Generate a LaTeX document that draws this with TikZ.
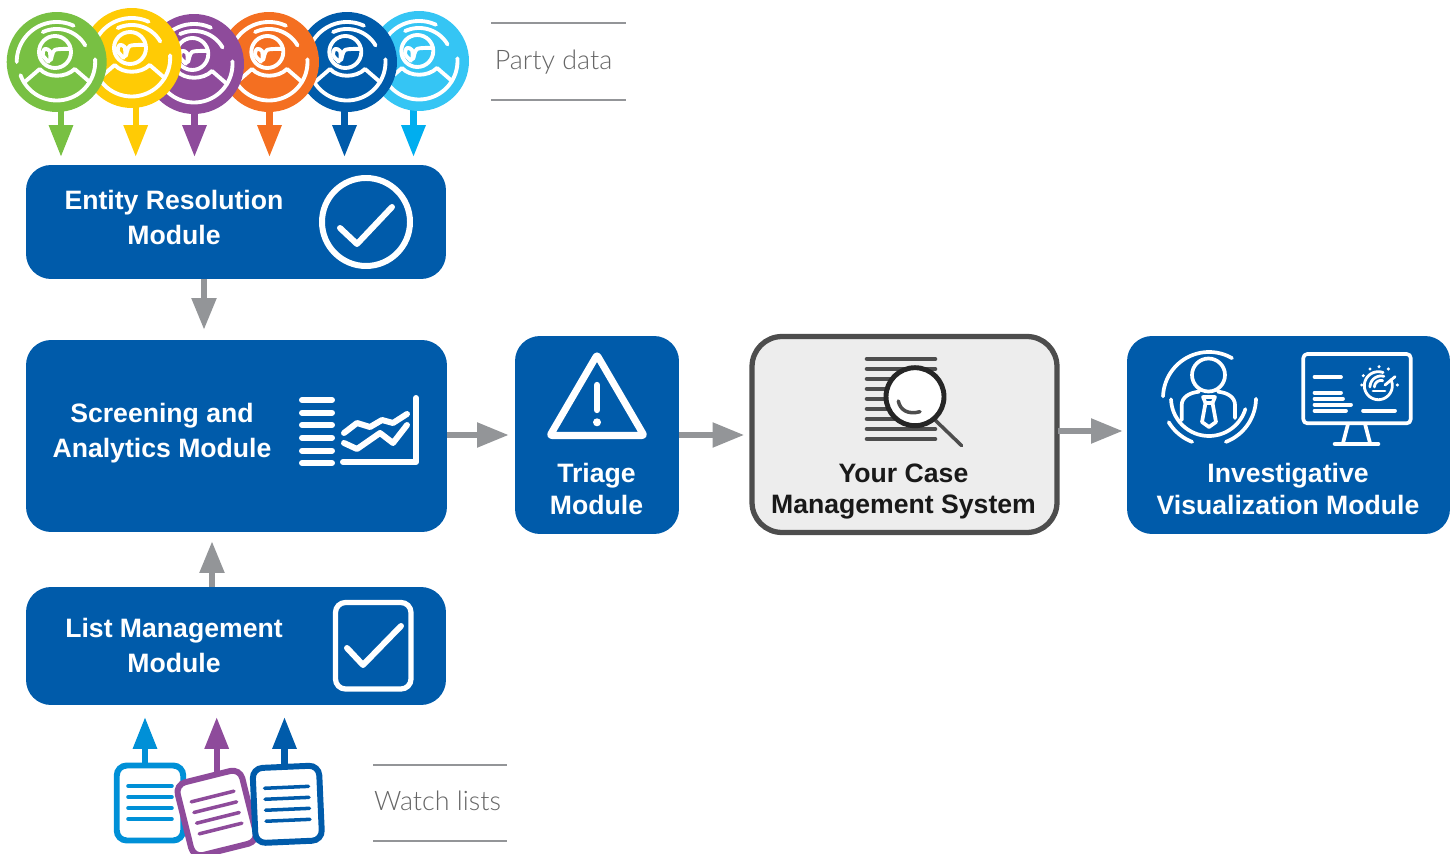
\documentclass[tikz,border=0pt]{standalone}
\usepackage{fontspec}
\setmainfont{Liberation Sans}
\newfontfamily\captionfont{Lato Light}
\usetikzlibrary{arrows.meta}
\definecolor{moduleBlue}{HTML}{005BAA}
\definecolor{partyGreen}{HTML}{78C043}
\definecolor{partyYellow}{HTML}{FFCB05}
\definecolor{partyPurple}{HTML}{8E4B9B}
\definecolor{partyOrange}{HTML}{F46F21}
\definecolor{partyCyan}{HTML}{35C5F4}
\definecolor{arrowCyan}{HTML}{00AEEF}
\definecolor{listBlue}{HTML}{0090D7}
\definecolor{flowGray}{HTML}{939598}
\definecolor{caseGray}{HTML}{4D4D4D}
\tikzset{
  modulebox/.style={fill=moduleBlue,rounded corners=0.5cm,inner sep=0pt},
  casebox/.style={fill=black!7,draw=caseGray,line width=3pt,rounded corners=0.6cm,inner sep=0pt},
  modulelabel/.style={text=white,font=\bfseries\fontsize{15.15}{20}\selectfont,align=center,inner sep=0pt},
  boxlabel/.style={font=\bfseries\fontsize{15.15}{18.1}\selectfont,align=center,inner sep=0pt},
  partydisc/.style={circle,minimum size=2cm,inner sep=0pt},
  faceline/.style={draw=white,line width=2.2pt,line cap=round,line join=round},
  iconline/.style={draw=white,line width=3.4pt,line cap=round,line join=round},
  thinicon/.style={draw=white,line width=2.1pt,line cap=round,line join=round},
  gaugeline/.style={draw=white,line width=1.6pt,line cap=round,line join=round},
  flowarrow/.style={draw=flowGray,fill=flowGray,line width=3.8pt,-{Triangle[length=0.64cm,width=0.47cm]}},
  feedarrow/.style={draw=#1,fill=#1,line width=3.6pt,-{Triangle[length=0.64cm,width=0.46cm]}},
  rulerline/.style={draw=flowGray,line width=1.4pt},
  captiontext/.style={text=black!60,font=\captionfont\fontsize{15.3}{18}\selectfont,inner sep=0pt},
  docsheet/.style={fill=white,line width=3.4pt,rounded corners=0.2cm,inner sep=0pt,minimum width=#1},
  docline/.style={line width=2pt,line cap=round}
}
\def\ringarc[#1](#2,#3)(#4:#5:#6){\draw[#1,domain=#4:#5,samples=40] plot ({#2+#6*cos(\x)},{#3+#6*sin(\x)});}
\def\partyface(#1,#2){
  \begin{scope}[shift={(#1,#2)}]
    \ringarc[faceline](0,0)(180:295:40);
    \ringarc[faceline](0,0)(245:330:33);
    \ringarc[faceline](0,0)(-4:160:38.5);
    \draw[faceline] (-1.7,-10) circle (16);
    \draw[faceline] plot[smooth] coordinates {(-8,0) (-14,-7) (-12,-13) (-7,-11) (-6,-2) (-2,-12) (13,-13)};
    \draw[faceline] (-32,20) -- (-17,7) .. controls (-9,16) and (9,16) .. (18,7) -- (33,20);
  \end{scope}
}
\def\listdoc[#1](#2,#3)(#4)(#5){
  \node[docsheet=1.33cm,draw=#1,minimum height=1.5cm,rotate=#4] (#5) at (#2,#3) {};
  \begin{scope}[shift={(#2,#3)},rotate=#4]
    \draw[docline,draw=#1] (-22,-17) -- (22,-17);
    \draw[docline,draw=#1] (-22,-6) -- (22,-6);
    \draw[docline,draw=#1] (-22,5) -- (22,5);
    \draw[docline,draw=#1] (-22,16) -- (22,16);
  \end{scope}
}
\begin{document}
\begin{tikzpicture}[x=0.02cm,y=-0.02cm]
  %%%%% START %%%%%
  \useasboundingbox (0,0) rectangle (1456,854);

  \node[modulebox,minimum width=8.4cm,minimum height=2.28cm] (entity) at (236,222) {};
  \node[modulebox,minimum width=8.42cm,minimum height=3.84cm] (screening) at (236.5,436) {};
  \node[modulebox,minimum width=8.4cm,minimum height=2.36cm] (listmgmt) at (236,646) {};
  \node[modulebox,minimum width=3.28cm,minimum height=3.96cm] (triage) at (597,435) {};
  \node[casebox,minimum width=6.1cm,minimum height=3.92cm] (casesys) at (904.5,434.5) {};
  \node[modulebox,minimum width=6.46cm,minimum height=3.96cm] (investigate) at (1288.5,435) {};

  \node[modulelabel] (entityLabel) at (174,217.5) {Entity Resolution\\Module};
  \node[modulelabel] (screeningLabel) at (162,433.5) {Screening and\\Analytics Module};
  \node[modulelabel] (listLabel) at (174,645.5) {List Management\\Module};
  \node[boxlabel,text=white] (triageLabel) at (596.5,489) {Triage\\Module};
  \node[boxlabel,text=black!90] (caseLabel) at (903.5,491.5) {Your Case\\Management System};
  \node[boxlabel,text=white] (investigateLabel) at (1288,489) {Investigative\\Visualization Module};

  % grey flow
  \coordinate (entityOut) at (204,279);
  \coordinate (screeningTop) at (204,330);
  \coordinate (listOut) at (212,587);
  \coordinate (screeningBottom) at (212,541);
  \coordinate (caseOut) at (1058,431);
  \coordinate (investigateIn) at (1123,431);
  \coordinate (triageIn) at (509,435);
  \coordinate (caseIn) at (744.5,435);
  \draw[flowarrow] (entityOut) -- (screeningTop);
  \draw[flowarrow] (listOut) -- (screeningBottom);
  \draw[flowarrow] (screening.east |- triageIn) -- (triageIn);
  \draw[flowarrow] (triage.east |- caseIn) -- (caseIn);
  \draw[flowarrow] (caseOut) -- (investigateIn);

  % party data
  \coordinate (tipGreen) at (61,157);
  \coordinate (tipYellow) at (135.7,157);
  \coordinate (tipPurple) at (194.5,157);
  \coordinate (tipOrange) at (269.5,157);
  \coordinate (tipBlue) at (344.5,157);
  \coordinate (tipCyan) at (413.5,157);
  \coordinate (rowParty) at (0,62);
  \draw[feedarrow=partyGreen] (tipGreen |- rowParty) -- (tipGreen);
  \draw[feedarrow=partyYellow] (tipYellow |- rowParty) -- (tipYellow);
  \draw[feedarrow=partyPurple] (tipPurple |- rowParty) -- (tipPurple);
  \draw[feedarrow=partyOrange] (tipOrange |- rowParty) -- (tipOrange);
  \draw[feedarrow=moduleBlue] (tipBlue |- rowParty) -- (tipBlue);
  \draw[feedarrow=arrowCyan] (tipCyan |- rowParty) -- (tipCyan);

  \node[partydisc,fill=partyCyan] (partyCyanDisc) at (419,61) {};
  \partyface(419,61)
  \node[partydisc,fill=moduleBlue] (partyBlueDisc) at (347,62) {};
  \partyface(347,62)
  \node[partydisc,fill=partyOrange] (partyOrangeDisc) at (269,62) {};
  \partyface(269,62)
  \node[partydisc,fill=partyPurple] (partyPurpleDisc) at (194,64) {};
  \partyface(194,64)
  \node[partydisc,fill=partyYellow] (partyYellowDisc) at (131.7,58) {};
  \partyface(131.7,58)
  \node[partydisc,fill=partyGreen] (partyGreenDisc) at (56.7,62) {};
  \partyface(56.7,62)

  \draw[rulerline] (491,23) -- (626,23);
  \draw[rulerline] (491,100) -- (626,100);
  \node[captiontext] (partyCaption) at (553.5,62.5) {Party data};

  % watch lists
  \coordinate (tipListBlue) at (145,717);
  \coordinate (tipListPurple) at (216.7,717);
  \coordinate (tipListDark) at (284.5,717);
  \coordinate (rowLists) at (0,790);
  \draw[feedarrow=listBlue] (tipListBlue |- rowLists) -- (tipListBlue);
  \draw[feedarrow=partyPurple] (tipListPurple |- rowLists) -- (tipListPurple);
  \draw[feedarrow=moduleBlue] (tipListDark |- rowLists) -- (tipListDark);

  \listdoc[listBlue](150,803)(0)(docBlue)
  \listdoc[partyPurple](216.7,813)(14)(docPurple)
  \listdoc[moduleBlue](287.3,804.3)(2.5)(docDark)

  \draw[rulerline] (373,765) -- (507,765);
  \draw[rulerline] (373,841) -- (507,841);
  \node[captiontext] (watchCaption) at (437.5,801) {Watch lists};

  % check icons
  \draw[iconline] (366,222) circle (44);
  \draw[iconline] (340,228) -- (357,244) -- (392,207);
  \draw[iconline,line width=3pt,rounded corners=0.2cm] (335.5,602.5) rectangle (411,689);
  \draw[iconline] (347,648) -- (363,665) -- (401,626);

  % bars and chart
  \draw[iconline] (302,400) -- (332,400);
  \draw[iconline] (302,412.7) -- (332,412.7);
  \draw[iconline] (302,425) -- (332,425);
  \draw[iconline] (302,437.7) -- (332,437.7);
  \draw[iconline] (302,450.7) -- (332,450.7);
  \draw[iconline] (302,463) -- (332,463);
  \draw[iconline] (343,462) -- (416,462) -- (416,398);
  \draw[iconline] (344,433) -- (357,423) -- (370,427) -- (382,420) -- (393,423) -- (407,414);
  \draw[iconline] (344,443) -- (357,449) -- (380,433) -- (393,443) -- (407,425);

  % warning sign
  \draw[iconline,line width=4pt,rounded corners=0.04cm] (597,355) -- (550,435.5) -- (644,435.5) -- cycle;
  \draw[iconline,line width=3.6pt] (597,385) -- (597,410);
  \fill[white] (597,422.3) circle (4);

  % document and lens
  \draw[caseGray,line width=2.6pt,line cap=round] (867,359) -- (935,359);
  \draw[caseGray,line width=2.6pt,line cap=round] (867,369) -- (935,369);
  \draw[caseGray,line width=2.6pt,line cap=round] (867,379) -- (935,379);
  \draw[caseGray,line width=2.6pt,line cap=round] (867,389) -- (935,389);
  \draw[caseGray,line width=2.6pt,line cap=round] (867,399) -- (935,399);
  \draw[caseGray,line width=2.6pt,line cap=round] (867,409) -- (935,409);
  \draw[caseGray,line width=2.6pt,line cap=round] (867,419) -- (935,419);
  \draw[caseGray,line width=2.6pt,line cap=round] (867,429) -- (935,429);
  \draw[caseGray,line width=2.6pt,line cap=round] (867,439) -- (935,439);
  \draw[caseGray,line width=2pt,line cap=round] (935,420) -- (961.7,445.7);
  \draw[fill=white,draw=black!85,line width=2.8pt] (915,396.7) circle (29);
  \draw[caseGray,line width=2pt,line cap=round] (898.3,401) .. controls (900,410) and (908,415) .. (920,411.7);

  % analyst
  \draw[thinicon] (1208.5,375) circle (16.5);
  \ringarc[thinicon](1209,398)(182:300:46);
  \ringarc[thinicon](1209,398)(111:149:47);
  \ringarc[thinicon](1209,398)(1:69:47);
  \ringarc[thinicon](1209,398)(17:178:38);
  \draw[thinicon] (1181.7,420) -- (1181.7,405) .. controls (1181.7,397) and (1190,392.5) .. (1199,391.7);
  \draw[thinicon] (1235,418) -- (1235,405) .. controls (1235,397) and (1227,392.5) .. (1218,391.7);
  \draw[thinicon] (1203,397) -- (1215,397) -- (1212.5,403) -- (1205.5,403) -- cycle;
  \draw[thinicon] (1205.5,403) -- (1202,422) -- (1209,427) -- (1216,422) -- (1212.5,403);

  % monitor and gauge
  \draw[thinicon,rounded corners=0.08cm] (1303.3,354) rectangle (1410.7,423.3);
  \draw[thinicon] (1348,424) -- (1343,443);
  \draw[thinicon] (1365,424) -- (1370,443);
  \draw[thinicon,line width=2.6pt] (1335,444) -- (1378,444);
  \draw[thinicon] (1314.5,377) -- (1341,377);
  \draw[thinicon] (1314.5,392.7) -- (1341,392.7);
  \draw[thinicon] (1314.5,398.7) -- (1343,398.7);
  \draw[thinicon] (1314.5,404.7) -- (1351,404.7);
  \draw[thinicon] (1314.5,410.7) -- (1346,410.7);
  \draw[thinicon] (1363,410.7) -- (1395,410.7);
  \ringarc[gaugeline](1378.3,385.7)(-25:290:14);
  \ringarc[gaugeline](1381,387)(180:285:11);
  \ringarc[gaugeline](1381,387)(180:285:6.5);
  \draw[gaugeline] (1385,385) -- (1395,376.7);
  \draw[gaugeline] (1373,391) -- (1385,391);
  \fill[white] (1363.3,375.7) circle (1.7);
  \fill[white] (1361.7,385) circle (1.7);
  \fill[white] (1370,369) circle (1.7);
  \fill[white] (1379,366.7) circle (1.7);
  \fill[white] (1388.3,369) circle (1.7);
  \fill[white] (1397.3,385) circle (1.7);

  %%%%% END %%%%%
\end{tikzpicture}
\end{document}
